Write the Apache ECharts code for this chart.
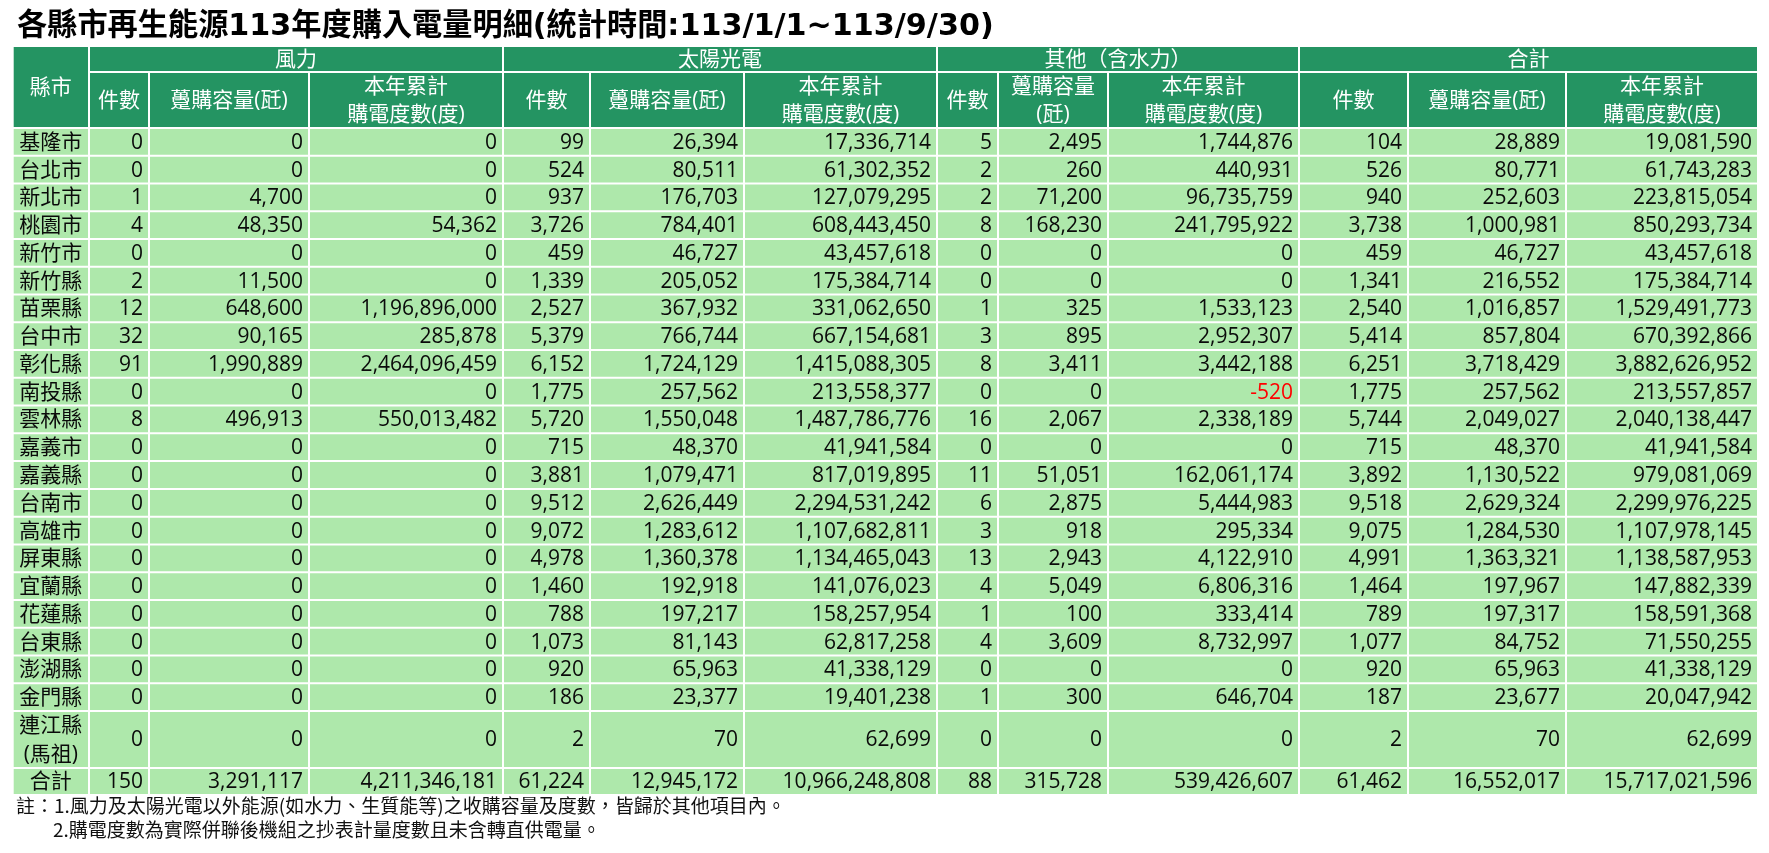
<!DOCTYPE html>
<html><head><meta charset="utf-8">
<script src="https://cdn.jsdelivr.net/npm/echarts@6/dist/echarts.min.js"></script>
<style>html,body{margin:0;padding:0;background:#fff}#c{width:1769px;height:853px}</style>
</head><body><div id="c"></div>
<script>
// ---------------- DATA ----------------
const titleText = '各縣市再生能源113年度購入電量明細(統計時間:113/1/1~113/9/30)';
const counties = ['基隆市','台北市','新北市','桃園市','新竹市','新竹縣','苗栗縣','台中市','彰化縣','南投縣','雲林縣','嘉義市','嘉義縣','台南市','高雄市','屏東縣','宜蘭縣','花蓮縣','台東縣','澎湖縣','金門縣','連江縣\n(馬祖)','合計'];
const windCount = [0,0,1,4,0,2,12,32,91,0,8,0,0,0,0,0,0,0,0,0,0,0,150];
const windCapacity = [0,0,4700,48350,0,11500,648600,90165,1990889,0,496913,0,0,0,0,0,0,0,0,0,0,0,3291117];
const windEnergy = [0,0,0,54362,0,0,1196896000,285878,2464096459,0,550013482,0,0,0,0,0,0,0,0,0,0,0,4211346181];
const solarCount = [99,524,937,3726,459,1339,2527,5379,6152,1775,5720,715,3881,9512,9072,4978,1460,788,1073,920,186,2,61224];
const solarCapacity = [26394,80511,176703,784401,46727,205052,367932,766744,1724129,257562,1550048,48370,1079471,2626449,1283612,1360378,192918,197217,81143,65963,23377,70,12945172];
const solarEnergy = [17336714,61302352,127079295,608443450,43457618,175384714,331062650,667154681,1415088305,213558377,1487786776,41941584,817019895,2294531242,1107682811,1134465043,141076023,158257954,62817258,41338129,19401238,62699,10966248808];
const otherCount = [5,2,2,8,0,0,1,3,8,0,16,0,11,6,3,13,4,1,4,0,1,0,88];
const otherCapacity = [2495,260,71200,168230,0,0,325,895,3411,0,2067,0,51051,2875,918,2943,5049,100,3609,0,300,0,315728];
const otherEnergy = [1744876,440931,96735759,241795922,0,0,1533123,2952307,3442188,-520,2338189,0,162061174,5444983,295334,4122910,6806316,333414,8732997,0,646704,0,539426607];
const totalCount = [104,526,940,3738,459,1341,2540,5414,6251,1775,5744,715,3892,9518,9075,4991,1464,789,1077,920,187,2,61462];
const totalCapacity = [28889,80771,252603,1000981,46727,216552,1016857,857804,3718429,257562,2049027,48370,1130522,2629324,1284530,1363321,197967,197317,84752,65963,23677,70,16552017];
const totalEnergy = [19081590,61743283,223815054,850293734,43457618,175384714,1529491773,670392866,3882626952,213557857,2040138447,41941584,979081069,2299976225,1107978145,1138587953,147882339,158591368,71550255,41338129,20047942,62699,15717021596];
const cornerHeader = '縣市';
const groupHeaders = ['風力','太陽光電','其他（含水力）','合計'];
const subHeaders = ['件數','躉購容量(瓩)','本年累計\n購電度數(度)','件數','躉購容量(瓩)','本年累計\n購電度數(度)','件數','躉購容量\n(瓩)','本年累計\n購電度數(度)','件數','躉購容量(瓩)','本年累計\n購電度數(度)'];
const notes = ['註：1.風力及太陽光電以外能源(如水力、生質能等)之收購容量及度數，皆歸於其他項目內。','2.購電度數為實際併聯後機組之抄表計量度數且未含轉直供電量。'];

// ---------------- LAYOUT ----------------
const colEdges = [12.7, 89, 149, 309, 503, 590, 744, 937, 998, 1108, 1299, 1408, 1566, 1758];
const headerEdges = [46, 72, 128];
const rowHeights = [];
for (let i = 0; i < 21; i++) rowHeights.push(27.76);
rowHeights.push(57, 27);
const rowEdges = [headerEdges[2]];
rowHeights.forEach(h => rowEdges.push(rowEdges[rowEdges.length - 1] + h));

const HEAD_BG = '#249462', CELL_BG = '#AEE8AB', GAP = 2, PAD = 5;
const FONT = "'Open Sans','Noto Sans CJK TC',sans-serif";

const valueCols = [windCount, windCapacity, windEnergy, solarCount, solarCapacity, solarEnergy,
                   otherCount, otherCapacity, otherEnergy, totalCount, totalCapacity, totalEnergy];
const fmt = v => v.toLocaleString('en-US');

const cells = [];
// header
cells.push({x0: colEdges[0], x1: colEdges[1], y0: headerEdges[0], y1: headerEdges[2], text: cornerHeader, head: true});
groupHeaders.forEach((g, i) => cells.push({x0: colEdges[1 + 3 * i], x1: colEdges[4 + 3 * i], y0: headerEdges[0], y1: headerEdges[1], text: g, head: true}));
subHeaders.forEach((s, i) => cells.push({x0: colEdges[1 + i], x1: colEdges[2 + i], y0: headerEdges[1], y1: headerEdges[2], text: s, head: true}));
// body
counties.forEach((name, r) => {
  cells.push({x0: colEdges[0], x1: colEdges[1], y0: rowEdges[r], y1: rowEdges[r + 1], text: name});
  valueCols.forEach((arr, c) => {
    const v = arr[r];
    cells.push({x0: colEdges[1 + c], x1: colEdges[2 + c], y0: rowEdges[r], y1: rowEdges[r + 1], text: fmt(v), right: true, neg: v < 0});
  });
});

function renderItem(params, api) {
  const d = cells[params.dataIndex];
  const p0 = api.coord([d.x0, d.y0]);
  const p1 = api.coord([d.x1, d.y1]);
  const g = GAP / 2;
  const cx = (p0[0] + p1[0]) / 2, cy = (p0[1] + p1[1]) / 2;
  return {
    type: 'group',
    children: [
      {type: 'rect', shape: {x: p0[0] + g, y: p0[1] + g, width: p1[0] - p0[0] - GAP, height: p1[1] - p0[1] - GAP},
       style: {fill: d.head ? HEAD_BG : CELL_BG}},
      {type: 'text', style: {
        text: d.text, x: d.right ? p1[0] - g - PAD : cx, y: cy + 1,
        align: d.right ? 'right' : 'center', verticalAlign: 'middle',
        fill: d.head ? '#ffffff' : (d.neg ? '#ff0000' : '#0a0a0a'),
        fontSize: 21, fontFamily: FONT, lineHeight: 28.5
      }}
    ]
  };
}

const chart = echarts.init(document.getElementById('c'), null, {renderer: 'canvas'});
chart.setOption({
  animation: false,
  backgroundColor: '#ffffff',
  title: {
    text: titleText, left: 12, top: 7,
    textStyle: {fontSize: 30.2, fontWeight: 'bold', color: '#000', fontFamily: "'DejaVu Sans','Noto Sans CJK TC',sans-serif"}
  },
  grid: {left: 0, right: 0, top: 0, bottom: 0},
  xAxis: {type: 'value', min: 0, max: 1769, show: false},
  yAxis: {type: 'value', min: 0, max: 853, inverse: true, show: false},
  series: [{
    type: 'custom', renderItem: renderItem, clip: false,
    data: cells.map(c => [c.x0, c.y0, c.x1, c.y1])
  }],
  graphic: [
    {type: 'text', left: 16, top: 796, style: {text: notes[0], fontSize: 19, fill: '#111', fontFamily: "'Noto Sans CJK TC',sans-serif"}},
    {type: 'text', left: 53, top: 820.5, style: {text: notes[1], fontSize: 19, fill: '#111', fontFamily: "'Noto Sans CJK TC',sans-serif"}}
  ]
});
</script></body></html>
